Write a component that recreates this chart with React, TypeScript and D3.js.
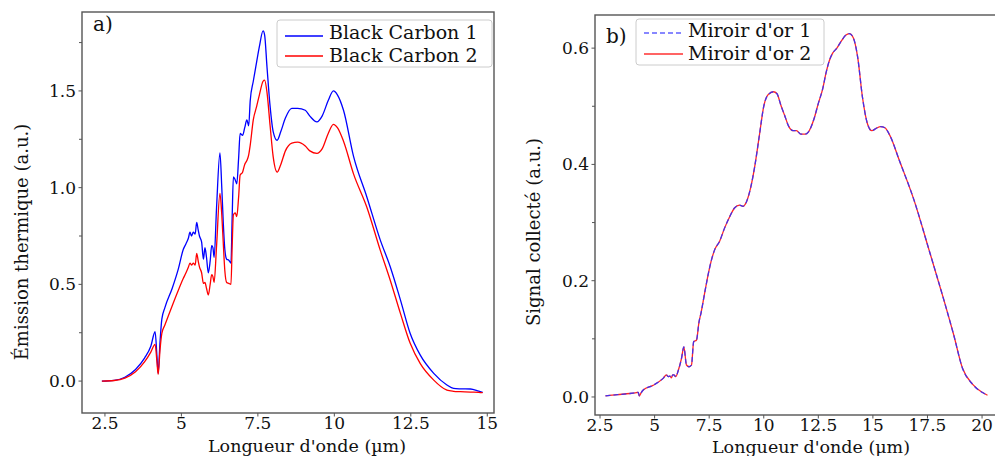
import React from "react";
import * as d3 from "d3";

// ---------- Data: panel a) ----------
const wlA = [2.4, 2.8, 3.15, 3.5, 3.8, 4.0, 4.14, 4.2, 4.24, 4.3, 4.36, 4.46, 4.7, 4.9, 5.06, 5.15, 5.23, 5.28, 5.33, 5.39, 5.45, 5.5, 5.55, 5.59, 5.66, 5.72, 5.77, 5.82, 5.88, 5.94, 5.99, 6.03, 6.07, 6.15, 6.26, 6.32, 6.37, 6.42, 6.48, 6.55, 6.62, 6.66, 6.7, 6.76, 6.81, 6.87, 6.92, 7.0, 7.07, 7.14, 7.2, 7.25, 7.35, 7.46, 7.55, 7.67, 7.72, 7.8, 7.9, 8.0, 8.13, 8.25, 8.4, 8.61, 8.8, 9.05, 9.2, 9.43, 9.6, 9.8, 9.97, 10.1, 10.3, 10.63, 11.06, 11.5, 11.83, 12.16, 12.48, 12.81, 13.25, 13.68, 13.9, 14.12, 14.45, 14.72, 14.85];
const blackCarbon1 = [0.0, 0.004, 0.02, 0.06, 0.12, 0.18, 0.255, 0.13, 0.04, 0.2, 0.32, 0.38, 0.48, 0.58, 0.68, 0.71, 0.74, 0.77, 0.75, 0.77, 0.76, 0.82, 0.78, 0.75, 0.72, 0.63, 0.69, 0.64, 0.56, 0.62, 0.7, 0.69, 0.64, 0.9, 1.18, 1.0, 0.815, 0.68, 0.63, 0.625, 0.61, 0.85, 1.056, 1.04, 1.02, 1.15, 1.28, 1.27, 1.31, 1.35, 1.32, 1.45, 1.55, 1.65, 1.73, 1.81, 1.79, 1.62, 1.42, 1.29, 1.245, 1.29, 1.36, 1.41, 1.41, 1.4, 1.37, 1.34, 1.37, 1.45, 1.5, 1.48, 1.4, 1.16, 0.953, 0.73, 0.59, 0.42, 0.246, 0.134, 0.04, -0.02, -0.038, -0.04, -0.041, -0.052, -0.058];
const blackCarbon2 = [0.0, 0.003, 0.015, 0.048, 0.1, 0.15, 0.19, 0.1, 0.035, 0.16, 0.246, 0.29, 0.39, 0.47, 0.53, 0.56, 0.59, 0.61, 0.6, 0.61, 0.6, 0.66, 0.62, 0.59, 0.56, 0.505, 0.51, 0.48, 0.445, 0.5, 0.55, 0.54, 0.51, 0.7, 0.97, 0.86, 0.71, 0.57, 0.51, 0.505, 0.5, 0.7, 0.86, 0.87, 0.85, 0.95, 1.065, 1.08, 1.12, 1.14, 1.17, 1.22, 1.35, 1.42, 1.48, 1.55, 1.556, 1.49, 1.32, 1.16, 1.08, 1.12, 1.19, 1.23, 1.235, 1.215, 1.19, 1.177, 1.2, 1.28, 1.327, 1.31, 1.24, 1.07, 0.9, 0.677, 0.52, 0.35, 0.195, 0.09, 0.005, -0.047, -0.053, -0.055, -0.057, -0.058, -0.06];

// ---------- Data: panel b) ----------
const wlB = [2.75, 3.3, 3.87, 4.17, 4.25, 4.3, 4.38, 4.48, 4.93, 5.39, 5.54, 5.62, 5.7, 5.77, 5.83, 5.88, 5.97, 6.08, 6.23, 6.34, 6.46, 6.58, 6.69, 6.79, 6.92, 7.03, 7.14, 7.29, 7.45, 7.6, 7.75, 7.98, 8.2, 8.44, 8.66, 8.89, 9.05, 9.2, 9.4, 9.58, 9.8, 10.0, 10.2, 10.45, 10.6, 10.8, 10.95, 11.15, 11.35, 11.5, 11.7, 11.9, 12.05, 12.3, 12.5, 12.7, 12.85, 13.0, 13.15, 13.35, 13.55, 13.75, 13.92, 14.1, 14.3, 14.52, 14.75, 14.95, 15.15, 15.35, 15.55, 15.8, 16.2, 16.88, 17.57, 18.25, 18.7, 19.1, 19.56, 20.0, 20.25];
const miroir1 = [0.002, 0.004, 0.006, 0.0075, 0.008, 0.002, 0.007, 0.012, 0.02, 0.032, 0.038, 0.035, 0.036, 0.033, 0.038, 0.038, 0.035, 0.045, 0.066, 0.086, 0.055, 0.052, 0.055, 0.095, 0.098, 0.128, 0.147, 0.178, 0.21, 0.235, 0.253, 0.268, 0.29, 0.31, 0.325, 0.33, 0.328, 0.335, 0.36, 0.395, 0.45, 0.5, 0.52, 0.525, 0.522, 0.5, 0.485, 0.465, 0.458, 0.458, 0.452, 0.452, 0.456, 0.478, 0.505, 0.53, 0.557, 0.578, 0.591, 0.6, 0.612, 0.622, 0.625, 0.618, 0.585, 0.516, 0.47, 0.458, 0.462, 0.465, 0.463, 0.448, 0.408, 0.339, 0.253, 0.167, 0.107, 0.05, 0.022, 0.008, 0.003];
const miroir2 = [0.002, 0.004, 0.006, 0.0075, 0.008, 0.002, 0.007, 0.012, 0.02, 0.032, 0.038, 0.035, 0.036, 0.033, 0.038, 0.038, 0.035, 0.045, 0.066, 0.086, 0.055, 0.052, 0.055, 0.095, 0.098, 0.128, 0.147, 0.178, 0.21, 0.235, 0.253, 0.268, 0.29, 0.31, 0.325, 0.33, 0.328, 0.335, 0.36, 0.395, 0.45, 0.5, 0.52, 0.525, 0.522, 0.5, 0.485, 0.465, 0.458, 0.458, 0.452, 0.452, 0.456, 0.478, 0.505, 0.53, 0.557, 0.578, 0.591, 0.6, 0.612, 0.622, 0.625, 0.618, 0.585, 0.516, 0.47, 0.458, 0.462, 0.465, 0.463, 0.448, 0.408, 0.339, 0.253, 0.167, 0.107, 0.05, 0.022, 0.008, 0.003];

// ---------- Ticks ----------
const xTicksA = [2.5, 5, 7.5, 10, 12.5, 15];
const xTickLabelsA = ["2.5", "5", "7.5", "10", "12.5", "15"];
const yTicksA = [0, 0.5, 1.0, 1.5];
const yTickLabelsA = ["0.0", "0.5", "1.0", "1.5"];
const yMinorA = [0.25, 0.75, 1.25, 1.75];

const xTicksB = [2.5, 5, 7.5, 10, 12.5, 15, 17.5, 20];
const xTickLabelsB = ["2.5", "5", "7.5", "10", "12.5", "15", "17.5", "20"];
const yTicksB = [0, 0.2, 0.4, 0.6];
const yTickLabelsB = ["0.0", "0.2", "0.4", "0.6"];
const yMinorB = [0.1, 0.3, 0.5];

const FONT = "'DejaVu Serif', serif";
const SPINE = "#555";

type PanelProps = {
  x: d3.ScaleLinear<number, number>;
  y: d3.ScaleLinear<number, number>;
  xTicks: number[];
  xLabels: string[];
  yTicks: number[];
  yLabels: string[];
  yMinor: number[];
  xTitle: string;
  yTitle: string;
  yTitleX: number;
  yTitleY: number;
  xTitleX: number;
  xTickY: number;
  xTitleY: number;
};

function Axes(p: PanelProps) {
  const [x0, x1] = p.x.range();
  const [y0, y1] = p.y.range();
  return (
    <g>
      <rect x={x0} y={y1} width={x1 - x0} height={y0 - y1} fill="none" stroke={SPINE} strokeWidth={1.4} />
      {p.xTicks.map((t, i) => (
        <g key={"xt" + i}>
          <line x1={p.x(t)} x2={p.x(t)} y1={y0} y2={y0 + 3.5} stroke={SPINE} strokeWidth={1} />
          <text x={p.x(t)} y={p.xTickY} textAnchor="middle" fontSize={17} fontFamily={FONT} fill="#111">
            {p.xLabels[i]}
          </text>
        </g>
      ))}
      {p.yTicks.map((t, i) => (
        <g key={"yt" + i}>
          <line x1={x0 - 3.5} x2={x0} y1={p.y(t)} y2={p.y(t)} stroke={SPINE} strokeWidth={1} />
          <text x={x0 - 6} y={p.y(t)} dy="0.35em" textAnchor="end" fontSize={17} fontFamily={FONT} fill="#111">
            {p.yLabels[i]}
          </text>
        </g>
      ))}
      {p.yMinor.map((t, i) => (
        <line key={"ym" + i} x1={x0 - 3} x2={x0} y1={p.y(t)} y2={p.y(t)} stroke={SPINE} strokeWidth={1} />
      ))}
      <text x={p.xTitleX} y={p.xTitleY} textAnchor="middle" fontSize={17.5} fontFamily={FONT} fill="#111">
        {p.xTitle}
      </text>
      <text
        transform={`translate(${p.yTitleX},${p.yTitleY}) rotate(-90)`}
        textAnchor="middle"
        dy="0.35em"
        fontSize={18}
        fontFamily={FONT}
        fill="#111"
      >
        {p.yTitle}
      </text>
    </g>
  );
}

export default function App() {
  const xA = d3.scaleLinear().domain([1.75, 15.22]).range([82, 494]);
  const yA = d3.scaleLinear().domain([-0.165, 1.908]).range([413, 12]);
  const xB = d3.scaleLinear().domain([2.27, 21.28]).range([595, 1010]);
  const yB = d3.scaleLinear().domain([-0.031, 0.657]).range([415, 15]);

  const lineA = (vals: number[]) =>
    d3
      .line<number>()
      .x((_, i) => xA(wlA[i]))
      .y((d) => yA(d))
      .curve(d3.curveMonotoneX)(vals) || "";
  const lineB = (vals: number[]) =>
    d3
      .line<number>()
      .x((_, i) => xB(wlB[i]))
      .y((d) => yB(d))
      .curve(d3.curveMonotoneX)(vals) || "";

  return (
    <svg width={995} height={456} style={{ position: "absolute", left: 0, top: 0, background: "#fff" }}>
      <rect x={0} y={0} width={995} height={456} fill="#fff" />
      {/* Panel a */}
      <path d={lineA(blackCarbon1)} fill="none" stroke="#0000ff" strokeWidth={1.3} />
      <path d={lineA(blackCarbon2)} fill="none" stroke="#ff0000" strokeWidth={1.3} />
      <Axes
        x={xA}
        y={yA}
        xTicks={xTicksA}
        xLabels={xTickLabelsA}
        yTicks={yTicksA}
        yLabels={yTickLabelsA}
        yMinor={yMinorA}
        xTitle="Longueur d'onde (µm)"
        yTitle="Émission thermique (a.u.)"
        yTitleX={22}
        yTitleY={242}
        xTitleX={307}
        xTickY={429}
        xTitleY={452}
      />
      <text x={93} y={31} fontSize={20} fontFamily={FONT} fill="#111">a)</text>
      <g>
        <rect x={277} y={20} width={215} height={47} rx={3} fill="#fff" fillOpacity={0.8} stroke="#ccc" />
        <line x1={285} x2={323} y1={36} y2={36} stroke="#0000ff" strokeWidth={1.3} />
        <text x={329} y={39} fontSize={19} fontFamily={FONT} fill="#111">Black Carbon 1</text>
        <line x1={285} x2={323} y1={56} y2={56} stroke="#ff0000" strokeWidth={1.3} />
        <text x={329} y={62} fontSize={19} fontFamily={FONT} fill="#111">Black Carbon 2</text>
      </g>

      {/* Panel b */}
      <path d={lineB(miroir2)} fill="none" stroke="#ff0000" strokeWidth={1.3} opacity={0.85} />
      <path d={lineB(miroir1)} fill="none" stroke="#3030ff" strokeWidth={1.3} strokeDasharray="5,3" opacity={0.9} />
      <Axes
        x={xB}
        y={yB}
        xTicks={xTicksB}
        xLabels={xTickLabelsB}
        yTicks={yTicksB}
        yLabels={yTickLabelsB}
        yMinor={yMinorB}
        xTitle="Longueur d'onde (µm)"
        yTitle="Signal collecté (a.u.)"
        yTitleX={534}
        yTitleY={232}
        xTitleX={811}
        xTickY={431}
        xTitleY={453}
      />
      <text x={606} y={43} fontSize={20} fontFamily={FONT} fill="#111">b)</text>
      <g>
        <rect x={636} y={19} width={188} height={46} rx={3} fill="#fff" fillOpacity={0.8} stroke="#ccc" />
        <line x1={644} x2={683} y1={33} y2={33} stroke="#6060ff" strokeWidth={1.3} strokeDasharray="5,3" />
        <text x={688} y={37} fontSize={19} fontFamily={FONT} fill="#111">Miroir d'or 1</text>
        <line x1={644} x2={683} y1={54} y2={54} stroke="#ff3030" strokeWidth={1.3} />
        <text x={688} y={60} fontSize={19} fontFamily={FONT} fill="#111">Miroir d'or 2</text>
      </g>
    </svg>
  );
}
